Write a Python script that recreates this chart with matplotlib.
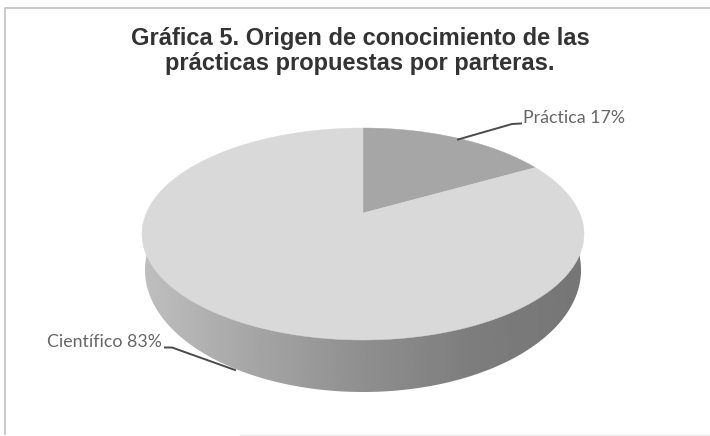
import numpy as np
from matplotlib import pyplot as plt
from matplotlib.patches import Polygon

title = "Gráfica 5. Origen de conocimiento de las\nprácticas propuestas por parteras."
labels = ["Práctica 17%", "Científico 83%"]
shares = [17, 83]
top_colors = ["#a6a6a6", "#d9d9d9"]

# ellipse of the top face and of the base, in pixels
cx, cy, rx, ry = 363, 234, 221, 106
by, brx, bry = 270, 218, 122
apex_up = 21

fig = plt.figure(figsize=(7.10, 4.36), dpi=100)
ax = fig.add_axes([0, 0, 1, 1])
ax.set_xlim(0, 710)
ax.set_ylim(436, 0)
ax.axis('off')


def rim_point(theta):
    # ray from the apex (above the centre because of perspective) to the rim
    a = np.sin(theta)
    b = np.cos(theta)
    c = apex_up / ry
    t = (-b*c + np.sqrt((b*c)**2 + 1 - c**2))
    return cx + a*t*rx, cy - (c + b*t)*ry


def wedge(start, end):
    th = np.linspace(start, end, 200)
    x, y = rim_point(th)
    apex = (cx, cy - apex_up)
    return np.vstack([[apex], np.column_stack([x, y])])


# frame: only top and left show, bottom is very faint
ax.plot([5, 5, 710], [434, 8.5, 8.5], color='#c6c6c6', lw=1.3)
ax.plot([240, 710], [434.5, 434.5], color='#ececec', lw=1)

# side of the pie, shaded from left to right
t = np.linspace(0, 2*np.pi, 400)
x_bot, y_bot = cx + brx*np.cos(t), by + bry*np.sin(t)
grays = [0.75, 0.65, 0.56, 0.49, 0.46]
xs = np.linspace(140, 586, 300)
shade = np.interp(xs, np.linspace(140, 586, 5), grays)
im = ax.imshow(shade[None, :], cmap='gray', vmin=0, vmax=1, aspect='auto',
               extent=(140, 586, 395, 225), zorder=2)
ax.set_xlim(0, 710)
ax.set_ylim(436, 0)
base = Polygon(np.column_stack([x_bot, y_bot]), closed=True, fc='none', ec='none',
               transform=ax.transData)
ax.add_patch(base)
im.set_clip_path(base)

# top face, slices start at 12 o'clock and go clockwise
start = 0
for share, col in zip(shares, top_colors):
    end = start + 2*np.pi*share/sum(shares)
    ax.add_patch(Polygon(wedge(start, end), closed=True, fc=col, ec=col, lw=0.3, zorder=3))
    start = end

# leader lines and labels
ax.plot([458, 512, 521], [139.5, 124, 123.5], color='#4a4a4a', lw=1.4, zorder=4)
ax.plot([165, 172, 235], [347.5, 347.5, 370], color='#4a4a4a', lw=1.4, zorder=4)
ax.text(523, 118, labels[0], fontsize=12.8, family='Lato', color='#666666', va='center', ha='left')
ax.text(47, 342, labels[1], fontsize=12.8, family='Lato', color='#666666', va='center', ha='left')

ax.text(360, 51, title, fontsize=17, family='Liberation Sans', fontweight='bold',
        color='#333333', ha='center', va='center', linespacing=1.08)

fig.savefig('out.png', dpi=100)
